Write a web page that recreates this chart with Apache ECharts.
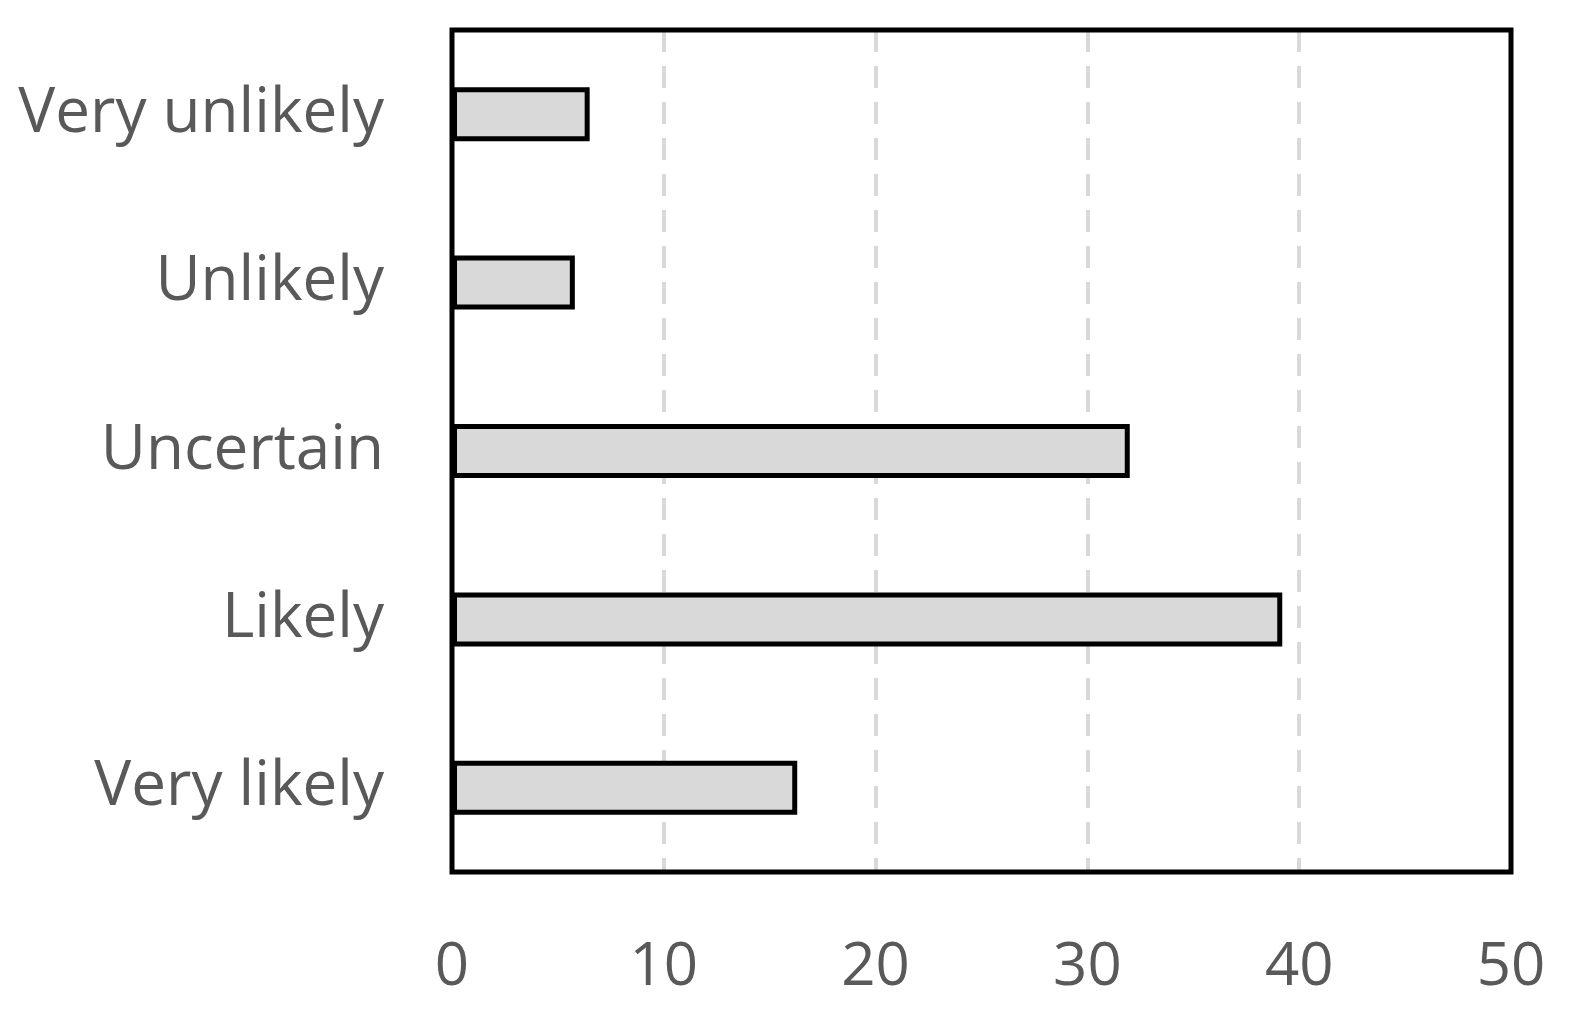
<!DOCTYPE html>
<html>
<head>
<meta charset="utf-8">
<script src="https://cdn.jsdelivr.net/npm/echarts@6/dist/echarts.min.js"></script>
<style>html,body{margin:0;padding:0;background:#fff}#chart{width:1572px;height:1018px}</style>
</head>
<body>
<div id="chart"></div>
<script>
var categories = ['Very unlikely', 'Unlikely', 'Uncertain', 'Likely', 'Very likely'];
var values = [6.5, 5.8, 32.0, 39.2, 16.3];
var xTicks = [0, 10, 20, 30, 40, 50];

var chart = echarts.init(document.getElementById('chart'));
chart.setOption({
  animation: false,
  grid: { left: 452, right: 61, top: 30, bottom: 146, show: true, borderColor: '#000', borderWidth: 5, backgroundColor: 'transparent', z: 10 },
  xAxis: {
    type: 'value', min: 0, max: 50, interval: 10,
    axisLine: { show: false }, axisTick: { show: false },
    splitLine: { showMinLine: false, showMaxLine: false, lineStyle: { color: '#d9d9d9', width: 4, type: [22, 14] } },
    axisLabel: { margin: 66, fontFamily: 'Open Sans', fontSize: 60, color: '#595959',
      formatter: function (v) { return xTicks.indexOf(v) >= 0 ? String(v) : ''; } }
  },
  yAxis: {
    type: 'category', inverse: true, data: categories,
    axisLine: { show: false }, axisTick: { show: false },
    axisLabel: { margin: 68, fontFamily: 'Open Sans', fontSize: 62, color: '#595959' }
  },
  series: [{
    type: 'bar', data: values, barWidth: 54,
    itemStyle: { color: '#d9d9d9', borderColor: '#000', borderWidth: 5 }
  }]
});
</script>
</body>
</html>
